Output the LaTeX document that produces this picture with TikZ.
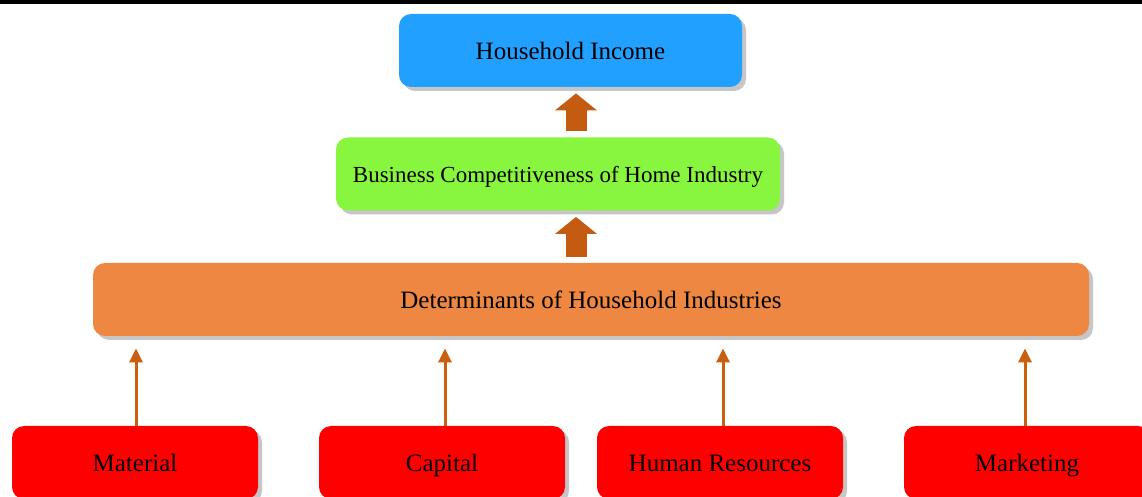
\documentclass[tikz,border=0pt]{standalone}
\usepackage{fontspec}
\setmainfont{Liberation Serif}
\usetikzlibrary{arrows.meta,shadows}
\definecolor{incomeblue}{HTML}{22A0FF}
\definecolor{compgreen}{HTML}{88F63E}
\definecolor{detorange}{HTML}{ED8742}
\definecolor{arrowbrown}{HTML}{C55A11}

\begin{document}
\begin{tikzpicture}[x=0.5pt, y=-0.5pt,
  box/.style={rounded corners=6pt, inner sep=0pt, minimum height=36.5pt,
    text height=10pt, text depth=1pt,
    font=\fontsize{12.5}{15}\selectfont,
    drop shadow={shadow xshift=2pt, shadow yshift=-2pt, fill=gray!45, opacity=1}},
  factor/.style={box, fill=red, minimum width=123pt},
  bigarrow/.style={arrowbrown, line width=10.5pt, shorten <=3pt, shorten >=3pt,
    -{Triangle[width=20.5pt, length=8.5pt]}},
  smallarrow/.style={arrowbrown!90!orange, line width=1.5pt, shorten >=6pt,
    -{Triangle[width=6.5pt, length=7pt]}}]
\useasboundingbox (0,0) rectangle (1142,497);
\clip (0,0) rectangle (1142,497);

% top rule
\fill[black] (0,0) rectangle (1142,4);

% main boxes
\node[box, fill=incomeblue, minimum width=171.5pt] (income) at (570.5,50.5) {Household Income};
\node[box, fill=compgreen, minimum width=222pt, font=\fontsize{11.5}{14}\selectfont] (compet) at (558,174) {Business Competitiveness of Home Industry};
\node[box, fill=detorange, minimum width=498pt] (determ) at (591,299.5) {Determinants of Household Industries};

% factor boxes
\node[factor] (material) at (135,462.5) {Material};
\node[factor] (capital) at (442,462.5) {Capital};
\node[factor] (human) at (720,462.5) {Human Resources};
\node[factor] (market) at (1027,462.5) {Marketing};

% big arrows
\coordinate (axis) at (576,0);
\draw[bigarrow] (compet.north -| axis) -- (income.south -| axis);
\draw[bigarrow] (determ.north -| axis) -- (compet.south -| axis);

% factor arrows
\foreach \f/\d in {material/1,capital/3,human/3,market/-2}
  \draw[smallarrow] ([xshift=\d*0.5pt]\f.north) -- ([xshift=\d*0.5pt]determ.south -| \f.north);

\end{tikzpicture}
\end{document}
